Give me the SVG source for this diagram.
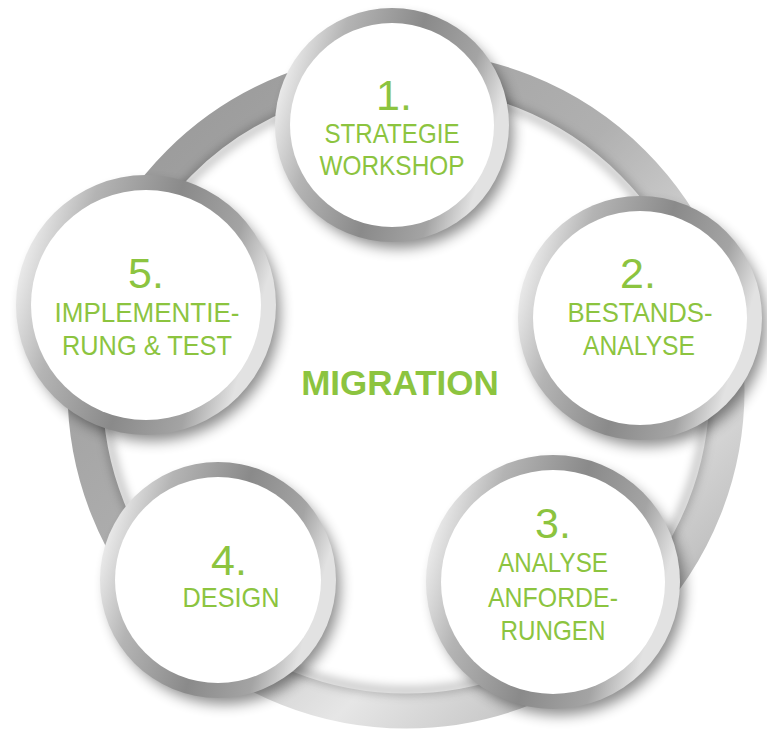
<svg xmlns="http://www.w3.org/2000/svg" width="767" height="736" viewBox="0 0 767 736">
<defs>
<linearGradient id="rim" x1="0" y1="0" x2="1" y2="0.3">
<stop offset="0" stop-color="#a8a8a8"/>
<stop offset="0.08" stop-color="#f4f4f4"/>
<stop offset="0.3" stop-color="#b4b4b4"/>
<stop offset="0.6" stop-color="#8a8a8a"/>
<stop offset="0.85" stop-color="#a4a4a4"/>
<stop offset="1" stop-color="#e2e2e2"/>
</linearGradient>
<linearGradient id="ringg" x1="0" y1="0" x2="1" y2="1">
<stop offset="0" stop-color="#959595"/>
<stop offset="0.45" stop-color="#b0b0b0"/>
<stop offset="0.7" stop-color="#e6e6e6"/>
<stop offset="0.85" stop-color="#c4c4c4"/>
<stop offset="1" stop-color="#7a7a7a"/>
</linearGradient>
<filter id="sh" x="-30%" y="-30%" width="160%" height="160%">
<feGaussianBlur stdDeviation="7"/>
</filter>
<filter id="ish" x="-10%" y="-10%" width="120%" height="120%">
<feGaussianBlur stdDeviation="5"/>
</filter>
<style>
.num{font-family:"Liberation Sans",Arial,sans-serif;font-size:43px;fill:#8cc43f;text-anchor:middle}
.lbl{font-family:"Liberation Sans",Arial,sans-serif;font-size:28px;fill:#8cc43f;text-anchor:middle}
.title{font-family:"Liberation Sans",Arial,sans-serif;font-size:35px;font-weight:bold;fill:#8cc43f;text-anchor:middle}
.shadow{fill:#000;opacity:0.45;filter:url(#sh)}
.rim{fill:url(#rim)}
.face{fill:#fff}
</style>
</defs>
<rect width="767" height="736" fill="#fff"/>
<g id="ring">
<circle cx="406" cy="390" r="321" fill="none" stroke="url(#ringg)" stroke-width="35"/>
<circle cx="406" cy="390" r="301" fill="none" stroke="#000" stroke-opacity="0.25" stroke-width="8" filter="url(#ish)"/>
</g>
<g id="connectors"></g>
<g id="node1">
<circle class="shadow" cx="398" cy="133" r="115"/>
<circle class="rim" cx="392" cy="125" r="117"/>
<circle class="face" cx="392" cy="125" r="102"/>
<text class="num" x="394" y="110">1.</text>
<text class="lbl" x="392" y="143" textLength="135" lengthAdjust="spacingAndGlyphs">STRATEGIE</text>
<text class="lbl" x="392" y="175" textLength="145" lengthAdjust="spacingAndGlyphs">WORKSHOP</text>
</g>
<g id="node2">
<circle class="shadow" cx="646" cy="326" r="120"/>
<circle class="rim" cx="640" cy="318" r="122"/>
<circle class="face" cx="640" cy="318" r="107"/>
<text class="num" x="638" y="288">2.</text>
<text class="lbl" x="640" y="322" textLength="145" lengthAdjust="spacingAndGlyphs">BESTANDS-</text>
<text class="lbl" x="639" y="355" textLength="112" lengthAdjust="spacingAndGlyphs">ANALYSE</text>
</g>
<g id="node3">
<circle class="shadow" cx="559" cy="590" r="125"/>
<circle class="rim" cx="553" cy="582" r="127"/>
<circle class="face" cx="553" cy="582" r="112"/>
<text class="num" x="553" y="538">3.</text>
<text class="lbl" x="553" y="572" textLength="110" lengthAdjust="spacingAndGlyphs">ANALYSE</text>
<text class="lbl" x="553" y="607" textLength="130" lengthAdjust="spacingAndGlyphs">ANFORDE-</text>
<text class="lbl" x="553" y="640" textLength="105" lengthAdjust="spacingAndGlyphs">RUNGEN</text>
</g>
<g id="node4">
<circle class="shadow" cx="224" cy="588" r="116"/>
<circle class="rim" cx="218" cy="580" r="118"/>
<circle class="face" cx="218" cy="580" r="103"/>
<text class="num" x="229" y="575">4.</text>
<text class="lbl" x="231" y="607" textLength="97" lengthAdjust="spacingAndGlyphs">DESIGN</text>
</g>
<g id="node5">
<circle class="shadow" cx="152" cy="313" r="128"/>
<circle class="rim" cx="146" cy="305" r="130"/>
<circle class="face" cx="146" cy="305" r="115"/>
<text class="num" x="146" y="288">5.</text>
<text class="lbl" x="147" y="322" textLength="185" lengthAdjust="spacingAndGlyphs">IMPLEMENTIE-</text>
<text class="lbl" x="147" y="355" textLength="170" lengthAdjust="spacingAndGlyphs">RUNG &amp; TEST</text>
</g>
<g id="center">
<text class="title" x="400" y="395">MIGRATION</text>
</g>
</svg>
